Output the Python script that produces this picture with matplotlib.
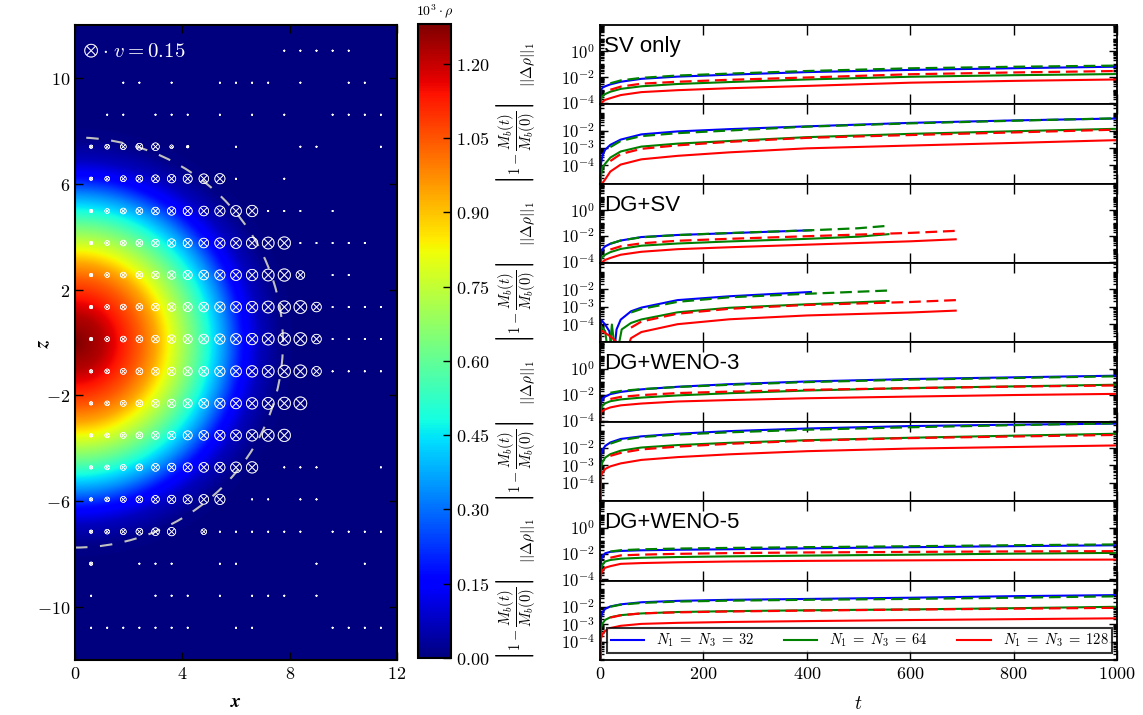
import numpy as np
import matplotlib
matplotlib.use('Agg')
import matplotlib.pyplot as plt
from matplotlib.ticker import FixedLocator, FuncFormatter, NullFormatter
from matplotlib.patches import Circle
from matplotlib.lines import Line2D

plt.rcParams['mathtext.fontset'] = 'cm'
plt.rcParams['font.family'] = ['DejaVu Sans']

# ---------------- left panel data ----------------
# radial density profile (10^3 rho) read from the colour map
R_PROF = [0.0, 1.0, 1.8, 2.4, 3.0, 3.5, 4.0, 4.5, 5.0, 5.6, 6.2, 6.9, 7.7, 8.5, 13.0]
RHO_PROF = [1.28, 1.22, 1.12, 1.04, 0.94, 0.82, 0.71, 0.60, 0.48, 0.34, 0.18, 0.07, 0.01, 0.0, 0.0]
RHO_MAX = 1.28
CB_TICKS = [0.00, 0.15, 0.30, 0.45, 0.60, 0.75, 0.90, 1.05, 1.20]
SURFACE_R = 7.75

# velocity marker grid
COL_X = [0.6, 1.2, 1.8, 2.4, 3.0, 3.6, 4.2, 4.8, 5.4, 6.0, 6.6, 7.2, 7.8, 8.4, 9.0, 9.6, 10.2, 10.8, 11.4]
ROW_Z = [11.03, 9.82, 8.61, 7.40, 6.19, 4.97, 3.76, 2.55, 1.34, 0.13, -1.09, -2.30,
         -3.51, -4.72, -5.93, -7.15, -8.36, -9.57, -10.78]
V_COL = [0.011, 0.021, 0.032, 0.043, 0.054, 0.064, 0.075, 0.086, 0.096, 0.107, 0.118,
         0.129, 0.139, 0.150]
N_FULL = [0, 0, 0, 5, 9, 11, 13, 13, 14, 14, 14, 14, 13, 11, 9, 6, 1, 0, 0]
EDGE = {3: {6: 0.012, 7: 0.006}, 7: {14: 0.07}, 8: {15: 0.085}, 9: {15: 0.085},
        10: {15: 0.085}, 15: {8: 0.03}}
DOTS = [[13, 14, 15, 16, 17], [3, 4, 6, 9, 10, 11, 12, 14, 17, 18],
        [2, 3, 5, 6, 7, 9, 11, 13, 16, 17, 18, 19], [10, 14, 15, 19], [10, 13],
        [12, 13, 14, 16], [14, 15, 16, 17, 18], [16, 17], [16, 17, 18, 19],
        [16, 17, 18, 19], [16, 17, 18, 19], [], [], [13, 14, 15, 19], [11, 12, 14, 15],
        [9, 10, 11, 12, 13, 14, 16, 17, 18, 19], [4, 5, 6, 9, 10, 15, 18],
        [1, 5, 6, 7, 9, 11, 12, 13, 15], [1, 2, 3, 4, 5, 6, 7, 10, 11, 16, 17, 18, 19]]
V_DOT = 0.002
V_REF = 0.15

# ---------------- right panel data (log10 values) ----------------
T_GRID = [0, 2, 5, 10, 20, 40, 80, 150, 250, 400, 600, 800, 1000]

SV_DRHO_32 = [-9, -3.0, -2.8, -2.7, -2.55, -2.35, -2.12, -1.95, -1.80, -1.60, -1.43, -1.30, -1.18]
SV_DRHO_64 = [-9, -3.7, -3.45, -3.3, -3.12, -2.9, -2.7, -2.52, -2.37, -2.17, -1.96, -1.84, -1.75]
SV_DRHO_128 = [-9, -4.15, -3.9, -3.75, -3.62, -3.38, -3.15, -3.0, -2.85, -2.67, -2.42, -2.28, -2.17]
SV_MASS_32 = [-9, -3.9, -3.4, -3.1, -2.82, -2.52, -2.22, -2.05, -1.92, -1.76, -1.56, -1.42, -1.31]
SV_MASS_64 = [-9, -4.6, -4.1, -3.9, -3.55, -3.2, -2.92, -2.75, -2.6, -2.38, -2.19, -2.04, -1.9]
SV_MASS_128 = [-9, -5.3, -5.0, -4.8, -4.35, -3.95, -3.65, -3.45, -3.25, -3.02, -2.86, -2.71, -2.55]

T_DGSV_32 = [0, 2, 5, 10, 20, 40, 80, 150, 250, 410]
T_DGSV_64 = [0, 2, 5, 10, 20, 40, 80, 150, 250, 400, 500, 560]
T_DGSV_128 = [0, 2, 5, 10, 20, 40, 80, 150, 250, 400, 600, 690]
DGSV_DRHO_32 = [-9, -3.2, -3.0, -2.8, -2.6, -2.35, -2.08, -1.92, -1.78, -1.55]
DGSV_DRHO_64 = [-9, -3.8, -3.6, -3.45, -3.25, -3.0, -2.75, -2.58, -2.42, -2.22, -2.05, -1.85]
DGSV_DRHO_128 = [-9, -4.2, -4.0, -3.85, -3.7, -3.45, -3.22, -3.02, -2.87, -2.67, -2.41, -2.25]
T_DGSV_M32 = [0, 2, 10, 18, 26, 32, 40, 60, 80, 150, 250, 410]
T_DGSV_M64 = [0, 2, 10, 17, 23, 31, 42, 60, 80, 150, 250, 400, 560]
T_DGSV_M128 = [0, 2, 10, 20, 30, 45, 60, 80, 150, 250, 400, 600, 690]
DGSV_MASS_32 = [-9, -3.74, -4.02, -4.4, -6.0, -4.3, -3.74, -3.26, -3.05, -2.62, -2.4, -2.15]
DGSV_MASS_64 = [-9, -4.11, -4.4, -6.0, -4.02, -6.0, -4.3, -3.93, -3.73, -3.32, -3.06, -2.86, -2.67]
DGSV_MASS_128 = [-9, -4.35, -4.5, -4.7, -4.95, -6.0, -4.8, -4.45, -4.0, -3.72, -3.5, -3.33, -3.22]

W3_DRHO_32 = [-9, -2.6, -2.3, -2.14, -1.95, -1.78, -1.58, -1.38, -1.18, -0.97, -0.78, -0.65, -0.52]
W3_DRHO_64 = [-9, -3.1, -2.85, -2.66, -2.5, -2.36, -2.22, -2.05, -1.88, -1.67, -1.48, -1.35, -1.22]
W3_DRHO_128 = [-9, -3.35, -3.25, -3.13, -2.98, -2.82, -2.68, -2.52, -2.41, -2.27, -2.14, -2.02, -1.93]
W3_MASS_32 = [-9, -2.4, -2.1, -1.88, -1.68, -1.48, -1.33, -1.18, -1.03, -0.88, -0.74, -0.66, -0.60]
W3_MASS_64 = [-9, -3.1, -2.8, -2.55, -2.35, -2.15, -1.97, -1.83, -1.7, -1.55, -1.41, -1.29, -1.18]
W3_MASS_128 = [-9, -3.6, -3.4, -3.2, -3.05, -2.88, -2.68, -2.52, -2.36, -2.18, -2.03, -1.94, -1.85]

W5_DRHO_32 = [-9, -2.5, -2.2, -1.98, -1.87, -1.8, -1.75, -1.71, -1.67, -1.6, -1.51, -1.43, -1.36]
W5_DRHO_64 = [-9, -3.2, -2.85, -2.62, -2.5, -2.4, -2.33, -2.27, -2.22, -2.16, -2.09, -2.01, -1.95]
W5_DRHO_128 = [-9, -3.6, -3.3, -3.1, -2.98, -2.8, -2.74, -2.68, -2.62, -2.57, -2.53, -2.49, -2.47]
W5_MASS_32 = [-9, -2.6, -2.3, -2.12, -1.98, -1.86, -1.74, -1.66, -1.6, -1.55, -1.48, -1.39, -1.33]
W5_MASS_64 = [-9, -3.2, -2.95, -2.75, -2.6, -2.48, -2.38, -2.3, -2.25, -2.2, -2.15, -2.08, -2.0]
W5_MASS_128 = [-9, -3.8, -3.55, -3.38, -3.22, -3.09, -2.98, -2.92, -2.87, -2.82, -2.76, -2.71, -2.66]

# reference (dashed) curves: finer run scaled by the 2nd-order factor
DASH_FACTOR_DRHO = 4.5
DASH_FACTOR_MASS = 4.0
DASH_START = [20, 20, 20, 60, 20, 20, 20, 20]

TITLES = ['SV only', 'DG+SV', 'DG+WENO-3', 'DG+WENO-5']
LABELS = [r'$N_1\;=\;N_3\;=\;32$', r'$N_1\;=\;N_3\;=\;64$', r'$N_1\;=\;N_3\;=\;128$']
COLORS = ['#0000ff', '#008000', '#ff0000']
T_TICKS = [0, 200, 400, 600, 800, 1000]

PANELS = [
    ('drho', [T_GRID] * 3, [SV_DRHO_32, SV_DRHO_64, SV_DRHO_128]),
    ('mass', [T_GRID] * 3, [SV_MASS_32, SV_MASS_64, SV_MASS_128]),
    ('drho', [T_DGSV_32, T_DGSV_64, T_DGSV_128], [DGSV_DRHO_32, DGSV_DRHO_64, DGSV_DRHO_128]),
    ('mass', [T_DGSV_M32, T_DGSV_M64, T_DGSV_M128], [DGSV_MASS_32, DGSV_MASS_64, DGSV_MASS_128]),
    ('drho', [T_GRID] * 3, [W3_DRHO_32, W3_DRHO_64, W3_DRHO_128]),
    ('mass', [T_GRID] * 3, [W3_MASS_32, W3_MASS_64, W3_MASS_128]),
    ('drho', [T_GRID] * 3, [W5_DRHO_32, W5_DRHO_64, W5_DRHO_128]),
    ('mass', [T_GRID] * 3, [W5_MASS_32, W5_MASS_64, W5_MASS_128]),
]

# ---------------- figure ----------------
W, H = 1143, 715
fig = plt.figure(figsize=(W / 100, H / 100), dpi=100)

axL = fig.add_axes([75 / W, 1 - 660 / H, 322 / W, 635 / H])
xx = np.linspace(0, 12, 481)
zz = np.linspace(-12, 12, 961)
X, Z = np.meshgrid(xx, zz)
rho = np.interp(np.hypot(X, Z), R_PROF, RHO_PROF)
im = axL.imshow(rho, extent=[0, 12, -12, 12], origin='lower', cmap='jet', vmin=0,
                vmax=RHO_MAX, aspect='auto', interpolation='bilinear')
axL.add_patch(Circle((0, 0), SURFACE_R, fill=False, ec='#c0c0c0', lw=1.5,
                     ls=(0, (6, 6)), zorder=2))

px, pz, pv = [COL_X[0]], [ROW_Z[0]], [V_REF]
for j, z in enumerate(ROW_Z):
    for k in range(1, N_FULL[j] + 1):
        px.append(COL_X[k - 1]); pz.append(z); pv.append(V_COL[k - 1])
    for k, v in EDGE.get(j, {}).items():
        px.append(COL_X[k - 1]); pz.append(z); pv.append(v)
    for k in DOTS[j]:
        px.append(COL_X[k - 1]); pz.append(z); pv.append(V_DOT)
pv = np.array(pv)
S_REF = 9.6 ** 2
axL.scatter(px, pz, s=S_REF * pv / V_REF, marker=r'$\otimes$', c='white',
            edgecolors='white', linewidths=0.3, zorder=3)
axL.text(1.0, ROW_Z[0], r'$\cdot\ v = 0.15$', color='white', fontsize=15,
         va='center', ha='left', zorder=4)

axL.set_xlim(0, 12)
axL.set_ylim(-12, 12)
axL.xaxis.set_major_locator(FixedLocator([0, 4, 8, 12]))
axL.yaxis.set_major_locator(FixedLocator([-10, -6, -2, 2, 6, 10]))
bf = FuncFormatter(lambda v, p: r'$\mathbf{%d}$' % int(round(v)))
axL.xaxis.set_major_formatter(bf)
axL.yaxis.set_major_formatter(bf)
axL.tick_params(direction='in', length=6, width=1, top=True, right=True, labelsize=13)
for sp in axL.spines.values():
    sp.set_linewidth(1.5)
axL.set_xlabel(r'$\boldsymbol{x}$', fontsize=14)
axL.set_ylabel(r'$\boldsymbol{z}$', fontsize=14)
axL.xaxis.set_label_coords(0.5, -0.05)
axL.yaxis.set_label_coords(-0.07, 0.5)

cax = fig.add_axes([418 / W, 1 - 658 / H, 33 / W, 634 / H])
cb = fig.colorbar(im, cax=cax, ticks=CB_TICKS)
cb.ax.yaxis.set_major_formatter(FuncFormatter(lambda v, p: r'$%.2f$' % v))
cax.tick_params(direction='in', length=6, width=1, labelsize=13, right=True, left=False)
cb.outline.set_linewidth(1.5)
fig.text(435 / W, 1 - 11 / H, r'$10^3\cdot\rho$', ha='center', va='center', fontsize=10)

# ---------------- right panels ----------------
top_px, ph = 25, 635 / 8
axes_r = []
for i, (kind, ts, vals) in enumerate(PANELS):
    y0 = 1 - (top_px + (i + 1) * ph) / H
    ax = fig.add_axes([600 / W, y0, 517 / W, ph / H])
    axes_r.append(ax)
    ax.set_yscale('log')
    for t, v, c in zip(ts, vals, COLORS):
        ax.plot(t, 10.0 ** np.array(v), color=c, lw=1.5, solid_capstyle='butt')
    fac = DASH_FACTOR_DRHO if kind == 'drho' else DASH_FACTOR_MASS
    for idx in (1, 2):
        t = np.array(ts[idx]); v = 10.0 ** np.array(vals[idx]) * fac
        m = t >= DASH_START[i]
        ax.plot(t[m], v[m], color=COLORS[idx], lw=1.6, ls=(0, (5.3, 2.6)))
    ax.set_xlim(0, 1000)
    if kind == 'drho':
        ax.set_ylim(10 ** -4.1, 10 ** 2.05)
        majors = [1e-4, 1e-2, 1e0]
        ax.set_ylabel(r'$||\Delta\rho||_1$', fontsize=11)
        ax.text(0.008, 0.66, TITLES[i // 2], transform=ax.transAxes, fontsize=16,
                family='Liberation Sans', va='baseline', ha='left')
    else:
        ax.set_ylim(10 ** -5.05, 10 ** -0.5)
        majors = [1e-4, 1e-3, 1e-2]
        ax.set_ylabel(r'$\left|1-\dfrac{M_b(t)}{M_b(0)}\right|$', fontsize=10.5)
    ax.yaxis.set_label_coords(-0.122, 0.5)
    minors = [s * 10.0 ** e for e in range(-7, 3) for s in range(1, 10)
              if not (s == 1 and 10.0 ** e in majors)]
    ax.yaxis.set_major_locator(FixedLocator(majors))
    ax.yaxis.set_minor_locator(FixedLocator(minors))
    ax.yaxis.set_major_formatter(FuncFormatter(lambda v, p: r'$10^{%d}$' % int(round(np.log10(v)))))
    ax.yaxis.set_minor_formatter(NullFormatter())
    ax.xaxis.set_major_locator(FixedLocator(T_TICKS))
    ax.xaxis.set_major_formatter(FuncFormatter(lambda v, p: r'$%d$' % int(v)))
    ax.tick_params(axis='both', which='both', direction='in', top=True, right=True, width=1)
    ax.tick_params(axis='x', which='major', length=7, labelsize=13)
    ax.tick_params(axis='y', which='major', length=6, labelsize=12)
    ax.tick_params(axis='y', which='minor', length=3)
    for sp in ax.spines.values():
        sp.set_linewidth(1.3)
    if i < 7:
        ax.tick_params(labelbottom=False)

axb = axes_r[-1]
axb.set_xlabel(r'$t$', fontsize=14, labelpad=8)
handles = [Line2D([], [], color=c, lw=1.5) for c in COLORS]
leg = axb.legend(handles, LABELS, loc='lower left', bbox_to_anchor=(0.0135, 0.088, 0.977, 0.3),
                 mode='expand', ncol=3, fontsize=10.5, frameon=True, fancybox=False,
                 borderpad=0.25, handlelength=2.3, borderaxespad=0, columnspacing=1.0)
leg.get_frame().set_edgecolor('black')
leg.get_frame().set_linewidth(1.5)

fig.savefig('out.png', dpi=100)
